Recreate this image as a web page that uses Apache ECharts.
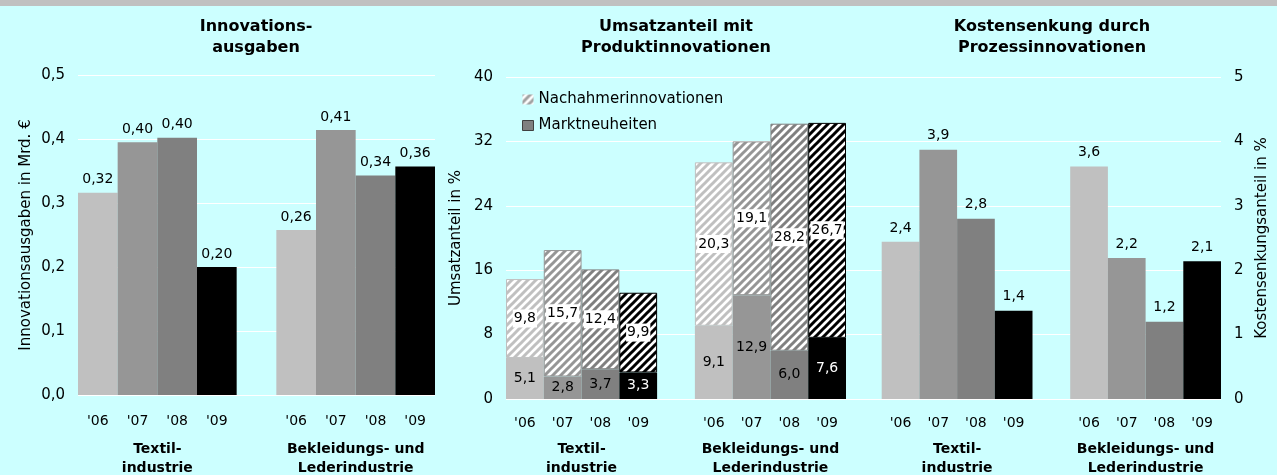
<!DOCTYPE html>
<html>
<head>
<meta charset="utf-8">
<title>Innovationen in der Textil- und Bekleidungsindustrie</title>
<script src="https://cdn.jsdelivr.net/npm/echarts@6/dist/echarts.min.js"></script>
<style>
  html, body { margin: 0; padding: 0; background: #ccffff; }
  #chart { width: 1277px; height: 475px; }
</style>
</head>
<body>
<div id="chart"></div>
<script>
// Jahre je Branche
var years = ["'06", "'07", "'08", "'09"];
var groupTextil = 'Textil-\nindustrie';
var groupBekleidung = 'Bekleidungs- und\nLederindustrie';

// Innovationsausgaben in Mrd. €
var ausgabenTextil = [0.316, 0.395, 0.402, 0.200];
var ausgabenBekleidung = [0.258, 0.414, 0.343, 0.357];

// Umsatzanteil mit Produktinnovationen in %
var marktTextil = [5.1, 2.8, 3.7, 3.3];
var marktBekleidung = [9.1, 12.9, 6.0, 7.6];
var nachahmerTextil = [9.8, 15.7, 12.4, 9.9];
var nachahmerBekleidung = [20.3, 19.1, 28.2, 26.7];

// Kostensenkung durch Prozessinnovationen in %
var kostenTextil = [2.44, 3.87, 2.80, 1.37];
var kostenBekleidung = [3.61, 2.19, 1.20, 2.14];

var yearColors = ['#c0c0c0', '#969696', '#808080', '#000000'];
var font = 'DejaVu Sans';

// Kategorien: 4 Jahre, Lücke, 4 Jahre (rechtes Panel mit einer Lücke vorne)
var cats9 = years.concat([''], years);
var cats10 = [''].concat(cats9);

function comma(v, d) {
    return (Math.round(v * Math.pow(10, d)) / Math.pow(10, d)).toFixed(d).replace('.', ',');
}

function hatch(c) {
    var cv = document.createElement('canvas');
    cv.width = 8; cv.height = 8;
    var g = cv.getContext('2d');
    g.fillStyle = '#fff';
    g.fillRect(0, 0, 8, 8);
    g.strokeStyle = c;
    g.lineWidth = 3;
    g.beginPath();
    g.moveTo(-2, 10); g.lineTo(10, -2);
    g.moveTo(-2, 2); g.lineTo(2, -2);
    g.moveTo(6, 10); g.lineTo(10, 6);
    g.stroke();
    return { image: cv, repeat: 'repeat' };
}

// baut die Balken: Textil, Lücke, Bekleidung; style(i) liefert itemStyle/label je Jahr
function items(t, b, lead, style) {
    var out = [];
    if (lead) out.push({ value: null });
    t.forEach(function (v, i) { out.push(Object.assign({ value: v }, style(i))); });
    out.push({ value: null });
    b.forEach(function (v, i) { out.push(Object.assign({ value: v }, style(i))); });
    return out;
}

function plain(i) {
    return { itemStyle: { color: yearColors[i] } };
}

function groupAxis(grid, max, a, b, margin) {
    return {
        type: 'value', gridIndex: grid, position: 'bottom', min: 0, max: max, interval: 1,
        axisLine: { show: false }, axisTick: { show: false }, splitLine: { show: false },
        axisLabel: {
            margin: margin, fontSize: 14, fontWeight: 'bold', color: '#000', lineHeight: 19,
            fontFamily: font, showMinLabel: true, showMaxLabel: true,
            formatter: function (v) { return v === a ? groupTextil : (v === b ? groupBekleidung : ''); }
        }
    };
}

function catAxis(grid, data, margin) {
    return {
        type: 'category', gridIndex: grid, data: data,
        axisLine: { show: false }, axisTick: { show: false },
        axisLabel: { interval: 0, margin: margin, fontSize: 14, color: '#000', fontFamily: font }
    };
}

function valAxis(grid, max, step, dec, name, gap, pos) {
    return {
        type: 'value', gridIndex: grid, min: 0, max: max, interval: step, position: pos,
        name: name, nameLocation: 'middle', nameGap: gap,
        nameTextStyle: { fontSize: 15, color: '#000', fontFamily: font },
        axisLine: { show: false }, axisTick: { show: false },
        splitLine: { lineStyle: { color: '#ffffff', width: 1 } },
        axisLabel: {
            fontSize: 15, color: '#000', margin: 13, fontFamily: font,
            formatter: function (v) { return comma(v, dec); }
        }
    };
}

var myChart = echarts.init(document.getElementById('chart'), null, { renderer: 'canvas' });

var option = {
    backgroundColor: '#ccffff',
    animation: false,
    textStyle: { fontFamily: font },
    graphic: [
        { type: 'rect', left: 0, top: 0, shape: { width: 1277, height: 6 }, style: { fill: '#c0c0c0' } }
    ],
    title: [
        { text: 'Innovations-\nausgaben', left: 256, top: 16 },
        { text: 'Umsatzanteil mit\nProduktinnovationen', left: 676, top: 16 },
        { text: 'Kostensenkung durch\nProzessinnovationen', left: 1052, top: 16 }
    ].map(function (t) {
        t.textAlign = 'center';
        t.padding = 0;
        t.textStyle = { fontSize: 16, fontWeight: 'bold', color: '#000', lineHeight: 21, fontFamily: font };
        return t;
    }),
    legend: {
        orient: 'vertical', left: 517, top: 87, itemWidth: 11, itemHeight: 10, itemGap: 11,
        selectedMode: false, icon: 'rect',
        textStyle: { fontSize: 15, color: '#000', fontFamily: font },
        data: [
            { name: 'Nachahmerinnovationen', itemStyle: { color: hatch('#a0a0a0'), borderWidth: 0 } },
            { name: 'Marktneuheiten', itemStyle: { color: '#808080', borderColor: '#404040', borderWidth: 1 } }
        ]
    },
    grid: [
        { left: 78, top: 75, width: 357, height: 320, outerBoundsMode: 'none' },
        { left: 506, top: 77, width: 340, height: 322, outerBoundsMode: 'none' },
        { left: 844, top: 77, width: 377, height: 322, outerBoundsMode: 'none' }
    ],
    xAxis: [
        catAxis(0, cats9, 19),
        groupAxis(0, 9, 2, 7, 45),
        catAxis(1, cats9, 17),
        groupAxis(1, 9, 2, 7, 41),
        catAxis(2, cats10, 17),
        groupAxis(2, 10, 3, 8, 41)
    ],
    yAxis: [
        valAxis(0, 0.5, 0.1, 1, 'Innovationsausgaben in Mrd. €', 44, 'left'),
        valAxis(1, 40, 8, 0, 'Umsatzanteil in %', 42, 'left'),
        valAxis(2, 5, 1, 0, 'Kostensenkungsanteil in %', 34, 'right')
    ],
    series: [
        {
            name: 'Innovationsausgaben', type: 'bar', xAxisIndex: 0, yAxisIndex: 0,
            barCategoryGap: '0%',
            label: {
                show: true, position: 'top', distance: 6, fontSize: 14, color: '#000',
                formatter: function (p) { return comma(p.value, 2); }
            },
            data: items(ausgabenTextil, ausgabenBekleidung, false, plain)
        },
        {
            name: 'Marktneuheiten', type: 'bar', xAxisIndex: 2, yAxisIndex: 1, stack: 'umsatz',
            barCategoryGap: '0%',
            itemStyle: { color: '#808080' },
            label: {
                show: true, position: 'inside', fontSize: 14,
                formatter: function (p) { return comma(p.value, 1); }
            },
            data: items(marktTextil, marktBekleidung, false, function (i) {
                return { itemStyle: { color: yearColors[i] }, label: { color: i === 3 ? '#fff' : '#000' } };
            })
        },
        {
            name: 'Nachahmerinnovationen', type: 'bar', xAxisIndex: 2, yAxisIndex: 1, stack: 'umsatz',
            barCategoryGap: '0%',
            label: {
                show: true, position: 'inside', fontSize: 14, color: '#000',
                backgroundColor: '#fff', padding: [2, 1],
                formatter: function (p) { return comma(p.value, 1); }
            },
            data: items(nachahmerTextil, nachahmerBekleidung, false, function (i) {
                return { itemStyle: { color: hatch(yearColors[i]), borderColor: yearColors[i], borderWidth: 1 } };
            })
        },
        {
            name: 'Kostensenkung', type: 'bar', xAxisIndex: 4, yAxisIndex: 2,
            barCategoryGap: '0%',
            label: {
                show: true, position: 'top', distance: 7, fontSize: 14, color: '#000',
                formatter: function (p) { return comma(p.value, 1); }
            },
            data: items(kostenTextil, kostenBekleidung, true, plain)
        }
    ]
};
myChart.setOption(option);
</script>
</body>
</html>
